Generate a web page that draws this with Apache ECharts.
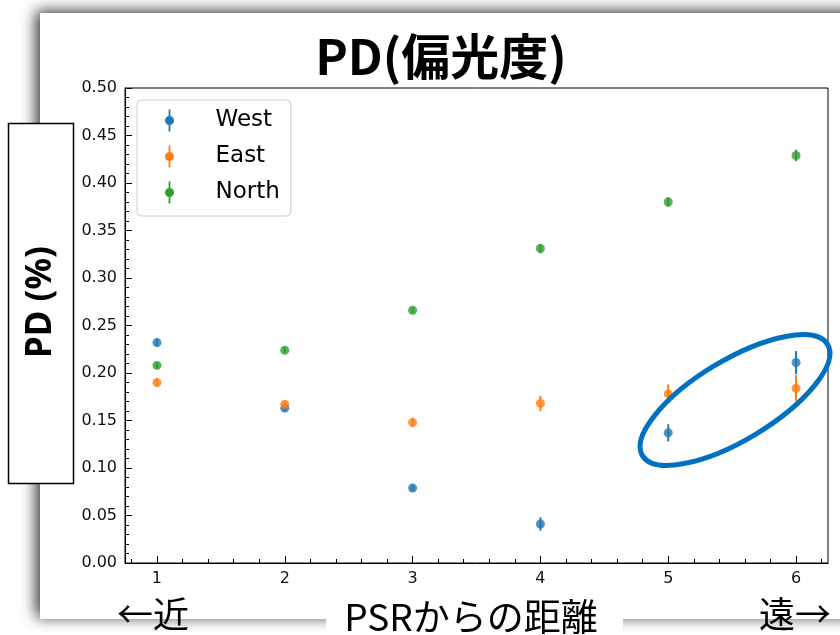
<!DOCTYPE html>
<html>
<head>
<meta charset="utf-8">
<script src="https://cdn.jsdelivr.net/npm/echarts@6/dist/echarts.min.js"></script>
<style>
  html, body { margin: 0; padding: 0; background: #ffffff; }
  #chart { width: 840px; height: 635px; }
</style>
</head>
<body>
<div id="chart"></div>
<script>
// Distance from the pulsar (region index 1..6)
const distance = [1, 2, 3, 4, 5, 6];

// Polarization degree per region and its 1-sigma uncertainty
const westPD   = [0.232, 0.163, 0.079, 0.041, 0.137, 0.211];
const westErr  = [0.004, 0.003, 0.003, 0.007, 0.009, 0.012];
const eastPD   = [0.190, 0.167, 0.148, 0.168, 0.178, 0.184];
const eastErr  = [0.004, 0.003, 0.005, 0.008, 0.010, 0.014];
const northPD  = [0.208, 0.224, 0.266, 0.331, 0.380, 0.429];
const northErr = [0.003, 0.003, 0.003, 0.005, 0.005, 0.006];

// Axis ticks
const xMajorTicks = [1, 2, 3, 4, 5, 6];
const xMinorTicks = [0.8, 1.2, 1.4, 1.6, 1.8, 2.2, 2.4, 2.6, 2.8, 3.2, 3.4, 3.6, 3.8,
                     4.2, 4.4, 4.6, 4.8, 5.2, 5.4, 5.6, 5.8, 6.2];

const seriesNames = ['West', 'East', 'North'];
const seriesColors = ['#1f77b4', '#ff7f0e', '#2ca02c'];
const seriesValues = [westPD, eastPD, northPD];
const seriesErrors = [westErr, eastErr, northErr];

const FONT = 'DejaVu Sans';
const errIcon = 'path://M4.1,0 L5.9,0 L5.9,22 L4.1,22 Z M9.5,11 A4.5,4.5 0 1 1 0.5,11 A4.5,4.5 0 1 1 9.5,11 Z';

function errorBarRender(params, api) {
  const x = api.value(0);
  const lo = api.coord([x, api.value(1)]);
  const hi = api.coord([x, api.value(2)]);
  return {
    type: 'line',
    shape: { x1: lo[0], y1: lo[1], x2: hi[0], y2: hi[1] },
    style: { stroke: api.visual('color'), lineWidth: 2 }
  };
}

const series = [];
seriesNames.forEach(function (name, k) {
  const vals = seriesValues[k];
  const errs = seriesErrors[k];
  series.push({
    name: name,
    type: 'custom',
    color: seriesColors[k],
    renderItem: errorBarRender,
    encode: { x: 0, y: [1, 2] },
    data: distance.map(function (d, i) { return [d, vals[i] - errs[i], vals[i] + errs[i]]; }),
    z: 3 + k * 2,
    silent: true
  });
  series.push({
    name: name,
    type: 'scatter',
    color: seriesColors[k],
    symbol: 'circle',
    symbolSize: 9,
    data: distance.map(function (d, i) { return [d, vals[i]]; }),
    z: 4 + k * 2,
    silent: true
  });
});

const chart = echarts.init(document.getElementById('chart'), null, { renderer: 'canvas' });

chart.setOption({
  animation: false,
  backgroundColor: '#ffffff',
  grid: {
    left: 125, right: 12, top: 88, bottom: 72,
    show: true, borderColor: '#000000', borderWidth: 1, backgroundColor: 'transparent'
  },
  legend: {
    orient: 'vertical',
    left: 137,
    top: 100,
    padding: [9, 11, 12, 28],
    itemWidth: 10,
    itemHeight: 22,
    itemGap: 13,
    backgroundColor: 'rgba(255,255,255,0.8)',
    borderColor: '#cccccc',
    borderWidth: 1,
    borderRadius: 4,
    selectedMode: false,
    data: seriesNames.map(function (n) { return { name: n, icon: errIcon }; }),
    formatter: function (n) { return '{t|' + n + '}'; },
    textStyle: {
      fontFamily: FONT,
      fontSize: 23,
      color: '#000000',
      rich: { t: { fontFamily: FONT, fontSize: 23, color: '#000000', padding: [0, 0, 0, 36] } }
    }
  },
  xAxis: [
    {
      type: 'value',
      min: 0.75,
      max: 6.25,
      splitLine: { show: false },
      axisLine: { show: true, onZero: false, lineStyle: { color: '#000000', width: 1 } },
      axisTick: { show: true, inside: true, length: 7, customValues: xMajorTicks, lineStyle: { color: '#000000' } },
      axisLabel: {
        show: true, customValues: xMajorTicks, margin: 8,
        fontFamily: FONT, fontSize: 16, color: '#111111'
      }
    },
    {
      type: 'value',
      min: 0.75,
      max: 6.25,
      position: 'bottom',
      splitLine: { show: false },
      axisLine: { show: false },
      axisTick: { show: true, inside: true, length: 4, customValues: xMinorTicks, lineStyle: { color: '#000000' } },
      axisLabel: { show: false }
    }
  ],
  yAxis: {
    type: 'value',
    min: 0,
    max: 0.5,
    interval: 0.05,
    splitLine: { show: false },
    axisLine: { show: true, onZero: false, lineStyle: { color: '#000000', width: 1 } },
    axisTick: { show: true, inside: true, length: 7, lineStyle: { color: '#000000' } },
    minorTick: { show: true, splitNumber: 5, length: 4, lineStyle: { color: '#000000' } },
    axisLabel: {
      margin: 8,
      fontFamily: FONT, fontSize: 16, color: '#111111',
      formatter: function (v) { return v.toFixed(2); }
    }
  },
  graphic: [
    {
      // slide page with its drop shadow
      type: 'rect',
      z: -10,
      silent: true,
      shape: { x: 40, y: 13, width: 830, height: 606 },
      style: {
        fill: '#ffffff',
        shadowBlur: 14,
        shadowColor: 'rgba(0,0,0,0.8)',
        shadowOffsetX: -4,
        shadowOffsetY: -2
      }
    },
    {
      type: 'text',
      z: 100,
      silent: true,
      style: {
        text: 'PD(偏光度)',
        x: 441, y: 56,
        align: 'center', verticalAlign: 'middle',
        font: 'bold 49px "Noto Sans CJK JP"',
        fill: '#000000'
      }
    },
    {
      type: 'rect',
      z: 100,
      silent: true,
      shape: { x: 8.5, y: 123.5, width: 65, height: 360 },
      style: { fill: '#ffffff', stroke: '#000000', lineWidth: 1.5 }
    },
    {
      type: 'text',
      z: 101,
      silent: true,
      x: 41, y: 302,
      rotation: Math.PI / 2,
      style: {
        text: 'PD (%)',
        x: 0, y: 0,
        align: 'center', verticalAlign: 'middle',
        font: 'bold 35px "Noto Sans"',
        fill: '#000000'
      }
    },
    {
      // highlight ring around the outer West/East regions
      type: 'ellipse',
      z: 50,
      silent: true,
      x: 735, y: 400,
      rotation: 31 * Math.PI / 180,
      shape: { cx: 0, cy: 0, rx: 108, ry: 40 },
      style: { fill: 'none', stroke: '#0070c0', lineWidth: 5 }
    },
    {
      type: 'rect',
      z: 100,
      silent: true,
      shape: { x: 326, y: 597, width: 297, height: 40 },
      style: { fill: '#ffffff' }
    },
    {
      type: 'text',
      z: 101,
      silent: true,
      style: {
        text: 'PSRからの距離',
        x: 471, y: 617,
        align: 'center', verticalAlign: 'middle',
        font: '37px "Noto Sans CJK JP"',
        fill: '#000000'
      }
    },
    {
      type: 'text',
      z: 101,
      silent: true,
      style: {
        text: '←近',
        x: 153, y: 614,
        align: 'center', verticalAlign: 'middle',
        font: '36px "Noto Sans CJK JP"',
        fill: '#000000'
      }
    },
    {
      type: 'text',
      z: 101,
      silent: true,
      style: {
        text: '遠→',
        x: 795, y: 614,
        align: 'center', verticalAlign: 'middle',
        font: '36px "Noto Sans CJK JP"',
        fill: '#000000'
      }
    }
  ],
  series: series
});
</script>
</body>
</html>
